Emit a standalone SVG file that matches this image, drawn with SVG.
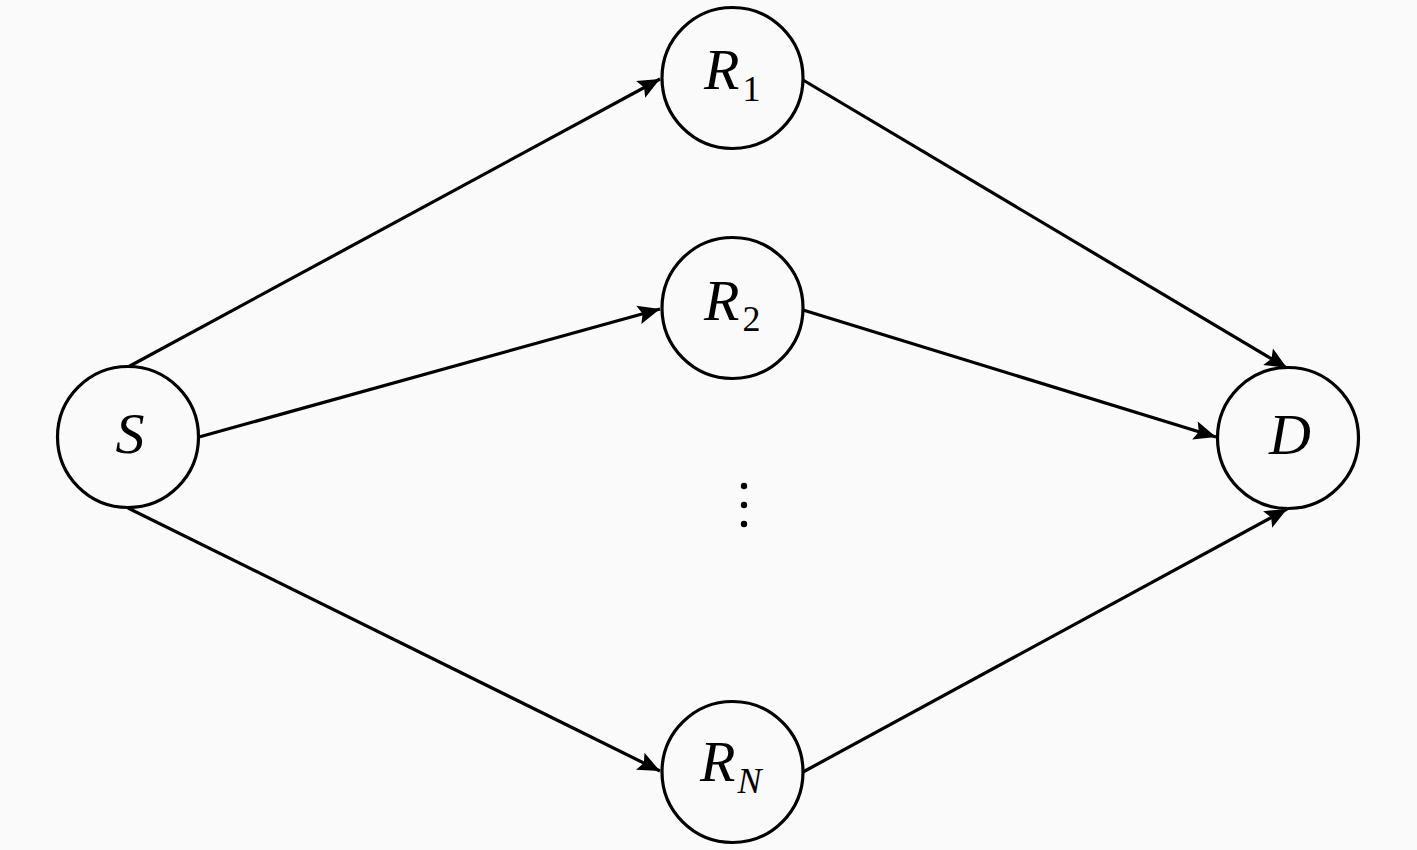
<svg xmlns="http://www.w3.org/2000/svg" width="1417" height="850" viewBox="0 0 1417 850">
<style>
.node{fill:#fafafa;stroke:#000;stroke-width:3.2}
.edge{stroke:#000;stroke-width:3.2;fill:none;marker-end:url(#arr)}
.lbl{font-family:"Liberation Serif",serif;font-style:italic;font-size:58px;fill:#000}
.sub{font-size:36px;font-style:normal}
.subi{font-size:36px;font-style:italic}
</style>
<defs>
<marker id="arr" markerUnits="userSpaceOnUse" markerWidth="30" markerHeight="24" viewBox="-24 -12 30 24" refX="0" refY="0" orient="auto">
<path d="M0,0 L-22,-9.5 L-18,0 L-22,9.5 Z" fill="#000"/>
</marker>
</defs>
<rect width="1417" height="850" fill="#fafafa"/>
<g id="connectors">
<line class="edge" x1="128" y1="367" x2="660" y2="79"/>
<line class="edge" x1="199" y1="437" x2="660" y2="309"/>
<line class="edge" x1="128" y1="508" x2="660" y2="771"/>
<line class="edge" x1="803" y1="80" x2="1287" y2="368"/>
<line class="edge" x1="803" y1="310" x2="1216" y2="437"/>
<line class="edge" x1="803" y1="772" x2="1287" y2="509"/>
</g>
<g id="S"><circle class="node" cx="128" cy="437" r="70.5"/><text class="lbl" x="130" y="453" text-anchor="middle">S</text></g>
<g id="R1"><circle class="node" cx="732.5" cy="78" r="70.5"/><text class="lbl" x="704" y="89">R<tspan class="sub" dx="3" dy="12">1</tspan></text></g>
<g id="R2"><circle class="node" cx="732.5" cy="308" r="70.5"/><text class="lbl" x="704" y="320">R<tspan class="sub" dx="3" dy="11">2</tspan></text></g>
<g id="RN"><circle class="node" cx="732.5" cy="772" r="70.5"/><text class="lbl" x="700" y="781">R<tspan class="subi" dx="2" dy="12">N</tspan></text></g>
<g id="D"><circle class="node" cx="1288" cy="438" r="70.5"/><text class="lbl" x="1290" y="454" text-anchor="middle">D</text></g>
<g id="dots" fill="#000"><circle cx="744" cy="486" r="3.2"/><circle cx="744" cy="505" r="3.2"/><circle cx="744" cy="524" r="3.2"/></g>
</svg>
